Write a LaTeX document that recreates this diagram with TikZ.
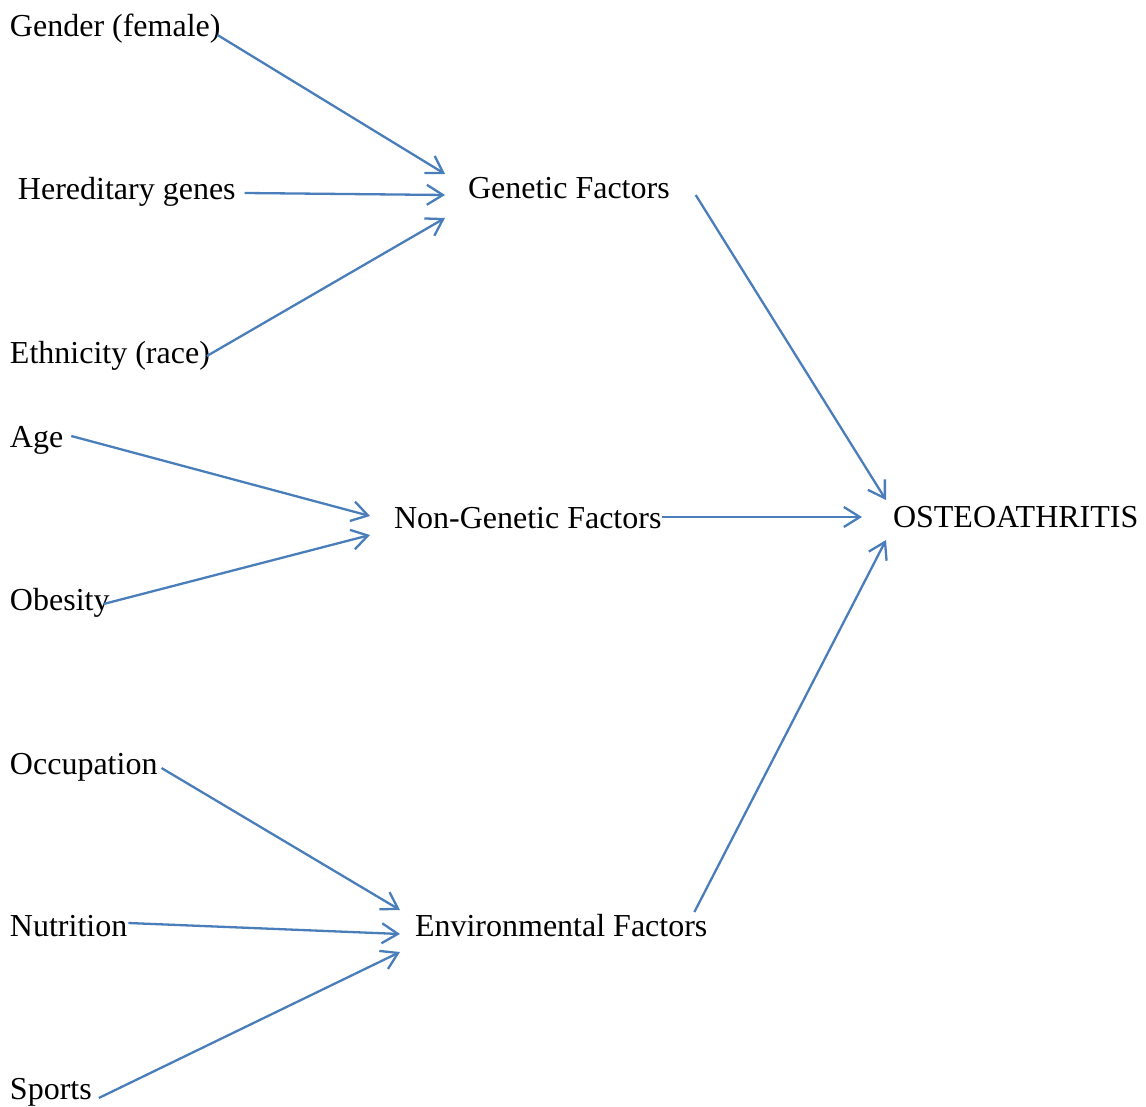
\documentclass[tikz,border=0pt]{standalone}
\usepackage{fontspec}
\setmainfont{Liberation Serif}
\usetikzlibrary{arrows.meta,calc}
\definecolor{linkblue}{RGB}{74,126,187}
\tikzset{
  lbl/.style={anchor=base west,inner sep=0pt,outer sep=0pt,font=\fontsize{16pt}{19pt}\selectfont},
  arr/.style={draw=linkblue,line width=1.15pt,-{Straight Barb[length=8pt,width=10pt,line width=1.15pt]}}
}
\begin{document}
\begin{tikzpicture}[x=0.5pt,y=-0.5pt]
\useasboundingbox (0,0) rectangle (1146,1107);
% nodes
\node[lbl] (gender) at (10,37) {Gender (female)};
\node[lbl] (hered) at (18,200) {Hereditary genes};
\node[lbl] (ethn) at (10,364) {Ethnicity (race)};
\node[lbl] (age) at (10,447) {Age};
\node[lbl] (obes) at (10,610) {Obesity};
\node[lbl] (occ) at (10,774) {Occupation};
\node[lbl] (nutr) at (10,936) {Nutrition};
\node[lbl] (sport) at (10,1099) {Sports};
\node[lbl] (genetic) at (468,199) {Genetic Factors};
\node[lbl] (nongen) at (394,528) {Non-Genetic Factors};
\node[lbl] (env) at (415,936) {Environmental Factors};
\node[lbl] (osteo) at (893,527) {OSTEOATHRITIS};
% connectors
\draw[arr] ($(gender.base east)+(-3,-2)$) -- ($(genetic.base west)+(-23,-25)$);
\draw[arr] ($(hered.base east)+(9,-7)$) -- ($(genetic.base west)+(-23,-4)$);
\draw[arr] ($(ethn.base east)+(-3,-8)$) -- ($(genetic.base west)+(-23,19)$);
\draw[arr] ($(age.base east)+(8,-11)$) -- ($(nongen.base west)+(-24,-12)$);
\draw[arr] ($(obes.base east)+(-6,-6)$) -- ($(nongen.base west)+(-24,7)$);
\draw[arr] ($(occ.base east)+(4,-6)$) -- ($(env.base west)+(-15,-26)$);
\draw[arr] ($(nutr.base east)+(1,-13)$) -- ($(env.base west)+(-15,-2)$);
\draw[arr] ($(sport.base east)+(7,-1)$) -- ($(env.base west)+(-15,16)$);
\draw[arr] ($(genetic.base east)+(26,-4)$) -- ($(osteo.base west)+(-7,-27)$);
\draw[arr] ($(nongen.base east)+(1,-11)$) -- ($(osteo.base west)+(-31,-10)$);
\draw[arr] ($(env.base east)+(-13,-24)$) -- ($(osteo.base west)+(-7,13)$);
\end{tikzpicture}
\end{document}
